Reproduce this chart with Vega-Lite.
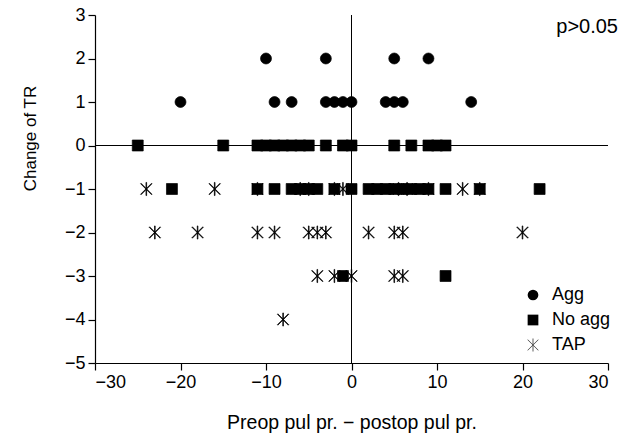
{
  "$schema": "https://vega.github.io/schema/vega-lite/v6.json",
  "width": 513,
  "height": 348,
  "autosize": {"type": "none"},
  "padding": {"left": 95, "top": 15, "right": 26, "bottom": 71},
  "background": "white",
  "config": {
    "view": {"stroke": null},
    "font": "Liberation Sans",
    "axis": {
      "grid": false,
      "domainColor": "black",
      "domainWidth": 1.2,
      "tickColor": "black",
      "tickWidth": 1.2,
      "tickSize": 7,
      "labelColor": "black",
      "labelFontSize": 18,
      "labelFont": "Liberation Sans",
      "labelPadding": 3,
      "titleColor": "black",
      "titleFont": "Liberation Sans",
      "titleFontWeight": "normal",
      "titleFontSize": 18
    },
    "legend": {
      "labelFont": "Liberation Sans",
      "labelFontSize": 18,
      "labelColor": "black"
    }
  },
  "data": {
    "values": [
      {"x": -10, "y": 2, "group": "Agg"},
      {"x": -3, "y": 2, "group": "Agg"},
      {"x": 5, "y": 2, "group": "Agg"},
      {"x": 9, "y": 2, "group": "Agg"},
      {"x": -20, "y": 1, "group": "Agg"},
      {"x": -9, "y": 1, "group": "Agg"},
      {"x": -7, "y": 1, "group": "Agg"},
      {"x": -3, "y": 1, "group": "Agg"},
      {"x": -2, "y": 1, "group": "Agg"},
      {"x": -1, "y": 1, "group": "Agg"},
      {"x": 0, "y": 1, "group": "Agg"},
      {"x": 4, "y": 1, "group": "Agg"},
      {"x": 5, "y": 1, "group": "Agg"},
      {"x": 6, "y": 1, "group": "Agg"},
      {"x": 14, "y": 1, "group": "Agg"},
      {"x": -25, "y": 0, "group": "No agg"},
      {"x": -15, "y": 0, "group": "No agg"},
      {"x": -11, "y": 0, "group": "No agg"},
      {"x": -10, "y": 0, "group": "No agg"},
      {"x": -9, "y": 0, "group": "No agg"},
      {"x": -8, "y": 0, "group": "No agg"},
      {"x": -7, "y": 0, "group": "No agg"},
      {"x": -6, "y": 0, "group": "No agg"},
      {"x": -5, "y": 0, "group": "No agg"},
      {"x": -3, "y": 0, "group": "No agg"},
      {"x": -1, "y": 0, "group": "No agg"},
      {"x": 0, "y": 0, "group": "No agg"},
      {"x": 5, "y": 0, "group": "No agg"},
      {"x": 7, "y": 0, "group": "No agg"},
      {"x": 9, "y": 0, "group": "No agg"},
      {"x": 10, "y": 0, "group": "No agg"},
      {"x": 11, "y": 0, "group": "No agg"},
      {"x": -21, "y": -1, "group": "No agg"},
      {"x": -11, "y": -1, "group": "No agg"},
      {"x": -9, "y": -1, "group": "No agg"},
      {"x": -7, "y": -1, "group": "No agg"},
      {"x": -6, "y": -1, "group": "No agg"},
      {"x": -5, "y": -1, "group": "No agg"},
      {"x": -4, "y": -1, "group": "No agg"},
      {"x": -2, "y": -1, "group": "No agg"},
      {"x": 0, "y": -1, "group": "No agg"},
      {"x": 2, "y": -1, "group": "No agg"},
      {"x": 3, "y": -1, "group": "No agg"},
      {"x": 4, "y": -1, "group": "No agg"},
      {"x": 5, "y": -1, "group": "No agg"},
      {"x": 6, "y": -1, "group": "No agg"},
      {"x": 7, "y": -1, "group": "No agg"},
      {"x": 8, "y": -1, "group": "No agg"},
      {"x": 9, "y": -1, "group": "No agg"},
      {"x": 11, "y": -1, "group": "No agg"},
      {"x": 15, "y": -1, "group": "No agg"},
      {"x": 22, "y": -1, "group": "No agg"},
      {"x": -1, "y": -3, "group": "No agg"},
      {"x": 11, "y": -3, "group": "No agg"},
      {"x": -24, "y": -1, "group": "TAP"},
      {"x": -16, "y": -1, "group": "TAP"},
      {"x": -11, "y": -1, "group": "TAP"},
      {"x": -6, "y": -1, "group": "TAP"},
      {"x": -5, "y": -1, "group": "TAP"},
      {"x": -2, "y": -1, "group": "TAP"},
      {"x": -1, "y": -1, "group": "TAP"},
      {"x": 5.5, "y": -1, "group": "TAP"},
      {"x": 6.5, "y": -1, "group": "TAP"},
      {"x": 9, "y": -1, "group": "TAP"},
      {"x": 13, "y": -1, "group": "TAP"},
      {"x": 15, "y": -1, "group": "TAP"},
      {"x": -23, "y": -2, "group": "TAP"},
      {"x": -18, "y": -2, "group": "TAP"},
      {"x": -11, "y": -2, "group": "TAP"},
      {"x": -9, "y": -2, "group": "TAP"},
      {"x": -5, "y": -2, "group": "TAP"},
      {"x": -4, "y": -2, "group": "TAP"},
      {"x": -3, "y": -2, "group": "TAP"},
      {"x": 2, "y": -2, "group": "TAP"},
      {"x": 5, "y": -2, "group": "TAP"},
      {"x": 6, "y": -2, "group": "TAP"},
      {"x": 20, "y": -2, "group": "TAP"},
      {"x": -4, "y": -3, "group": "TAP"},
      {"x": -2, "y": -3, "group": "TAP"},
      {"x": 0, "y": -3, "group": "TAP"},
      {"x": 5, "y": -3, "group": "TAP"},
      {"x": 6, "y": -3, "group": "TAP"},
      {"x": -8, "y": -4, "group": "TAP"}
    ]
  },
  "layer": [
    {
      "mark": {"type": "rule", "color": "black", "strokeWidth": 1},
      "encoding": {"x": {"datum": 0, "type": "quantitative"}}
    },
    {
      "mark": {"type": "rule", "color": "black", "strokeWidth": 1},
      "encoding": {"y": {"datum": 0, "type": "quantitative"}}
    },
    {
      "mark": {"type": "point", "filled": true, "color": "black", "stroke": "black", "strokeWidth": 0.7, "opacity": 1, "size": 120},
      "encoding": {
        "x": {
          "field": "x", "type": "quantitative",
          "scale": {"domain": [-30, 30], "nice": false, "zero": false},
          "axis": {"values": [-30, -20, -10, 0, 10, 20, 30], "title": "Preop pul pr. \u2212 postop pul pr.", "titleFontSize": 19.5, "titlePadding": 22}
        },
        "y": {
          "field": "y", "type": "quantitative",
          "scale": {"domain": [-5, 3], "nice": false, "zero": false},
          "axis": {"values": [-5, -4, -3, -2, -1, 0, 1, 2, 3], "title": "Change of TR", "titleFontSize": 17, "titleX": -65, "titleY": 123, "titleAlign": "center", "titleBaseline": "middle"}
        },
        "shape": {
          "field": "group", "type": "nominal",
          "scale": {
            "domain": ["Agg", "No agg", "TAP"],
            "range": ["circle", "square", "M-0.06,-1.2L0.06,-1.2L0.06,1.2L-0.06,1.2ZM-1.04,-0.96L0.96,1.04L1.04,0.96L-0.96,-1.04ZM-0.96,1.04L1.04,-0.96L0.96,-1.04L-1.04,0.96Z"]
          },
          "legend": {
            "title": null,
            "orient": "none",
            "legendX": 429,
            "legendY": 271,
            "padding": 0,
            "symbolSize": 115,
            "symbolFillColor": "black",
            "symbolStrokeColor": "black",
            "symbolStrokeWidth": 0.7,
            "labelOffset": 10,
            "rowPadding": 7,
            "encode": {
              "symbols": {
                "update": {
                  "stroke": {"value": "black"},
                  "strokeWidth": {"value": 0.7},
                  "fill": {"value": "black"},
                  "opacity": {"value": 1}
                }
              }
            }
          }
        }
      }
    },
    {
      "data": {"values": [{"label": "p>0.05", "x": 30, "y": 3}]},
      "mark": {"type": "text", "align": "right", "baseline": "top", "fontSize": 20, "font": "Liberation Sans", "color": "black", "dx": 10, "dy": 2},
      "encoding": {
        "x": {"field": "x", "type": "quantitative"},
        "y": {"field": "y", "type": "quantitative"},
        "text": {"field": "label"}
      }
    }
  ]
}
